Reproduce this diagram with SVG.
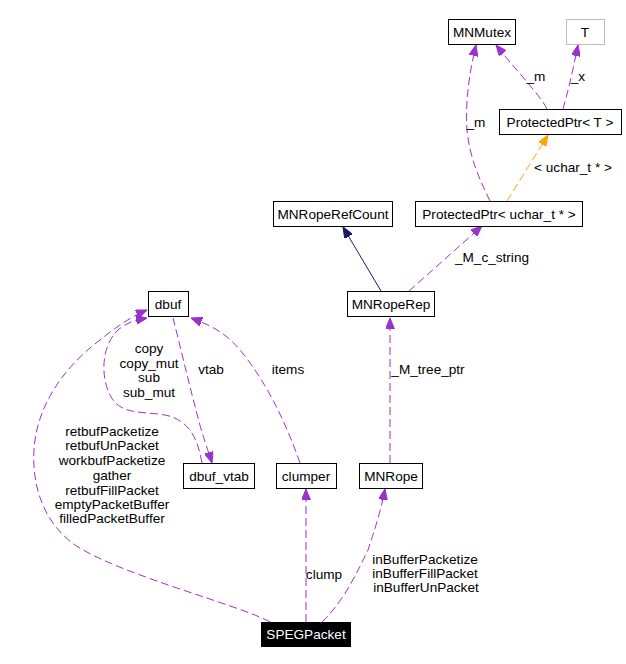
<svg xmlns="http://www.w3.org/2000/svg" width="626" height="664" viewBox="0 0 626 664">
<defs>
<marker id="ap" markerUnits="userSpaceOnUse" markerWidth="11" markerHeight="9" refX="11" refY="4.5" orient="auto"><path d="M0,0 L11,4.5 L0,9 z" fill="#9a32cd" stroke="#9a32cd" stroke-width="1"/></marker>
<marker id="an" markerUnits="userSpaceOnUse" markerWidth="11" markerHeight="9" refX="11" refY="4.5" orient="auto"><path d="M0,0 L11,4.5 L0,9 z" fill="#191970" stroke="#191970" stroke-width="1"/></marker>
<marker id="ao" markerUnits="userSpaceOnUse" markerWidth="11" markerHeight="9" refX="11" refY="4.5" orient="auto"><path d="M0,0 L11,4.5 L0,9 z" fill="#ffa500" stroke="#ffa500" stroke-width="1"/></marker>
</defs>
<style>
text{font-family:"Liberation Sans",Arial,sans-serif;font-size:13.6px;fill:#000}
.n{text-anchor:middle}
.box{fill:#fff;stroke:#000;stroke-width:1}
.p{fill:none;stroke:#9a32cd;stroke-width:1;stroke-dasharray:8,4;marker-end:url(#ap)}
.o{fill:none;stroke:#ffa500;stroke-width:1;stroke-dasharray:8,4;marker-end:url(#ao)}
.s{fill:none;stroke:#191970;stroke-width:1;marker-end:url(#an)}
</style>
<rect width="626" height="664" fill="#fff"/>
<g id="edges">
<path class="p" d="M547,109 C540,95 520,75 496,45"/>
<path class="p" d="M563,109 C567,95 572,75 578,45"/>
<path class="p" d="M490,201 C480,180 470,160 467,130 C465,100 470,70 476,45"/>
<path class="o" d="M507,201 L548,135"/>
<path class="s" d="M381,291 L343,227"/>
<path class="p" d="M409,291 L482,226"/>
<path class="p" d="M390,463 L390,318"/>
<path class="p" d="M173,318 C180,345 188,380 196,410 C202,435 208,450 212,463"/>
<path class="p" d="M202,463 C198,440 190,420 165,415 C140,411 120,415 110,395 C100,375 102,345 118,330 C126,323 135,320 147,318"/>
<path class="p" d="M300,463 C285,420 265,380 240,350 C225,332 210,325 191,318"/>
<path class="p" d="M270,622 C240,605 120,575 75,545 C40,520 32,480 34,450 C36,410 60,370 100,340 C115,328 130,317 147,310"/>
<path class="p" d="M306,622 L306,489"/>
<path class="p" d="M322,622 C345,600 358,570 368,550 C378,520 382,505 385,489"/>
</g>
<g id="edge-labels">
<text class="n" x="536" y="81">_m</text>
<text class="n" x="578" y="81">_x</text>
<text class="n" x="476" y="127">_m</text>
<text class="n" x="573" y="172">&lt; uchar_t * &gt;</text>
<text class="n" x="492" y="262">_M_c_string</text>
<text class="n" x="428" y="374">_M_tree_ptr</text>
<text class="n" x="211" y="374">vtab</text>
<text class="n" x="288" y="374">items</text>
<text class="n" x="149" y="353">copy</text>
<text class="n" x="149" y="368">copy_mut</text>
<text class="n" x="149" y="382">sub</text>
<text class="n" x="149" y="397">sub_mut</text>
<text class="n" x="112" y="436">retbufPacketize</text>
<text class="n" x="112" y="450">retbufUnPacket</text>
<text class="n" x="112" y="465">workbufPacketize</text>
<text class="n" x="112" y="480">gather</text>
<text class="n" x="112" y="495">retbufFillPacket</text>
<text class="n" x="112" y="509">emptyPacketBuffer</text>
<text class="n" x="112" y="523">filledPacketBuffer</text>
<text class="n" x="324" y="579">clump</text>
<text class="n" x="425" y="564">inBufferPacketize</text>
<text class="n" x="425" y="578">inBufferFillPacket</text>
<text class="n" x="426" y="592">inBufferUnPacket</text>
</g>
<g id="MNMutex"><rect class="box" x="448.5" y="19.5" width="67" height="25"/><text class="n" x="482" y="36.5">MNMutex</text></g>
<g id="T"><rect x="566.5" y="19.5" width="38" height="25" fill="#fff" stroke="#bfbfbf"/><text class="n" x="585" y="36.5">T</text></g>
<g id="ProtectedPtrT"><rect class="box" x="499.5" y="109.5" width="122" height="25"/><text class="n" x="560" y="126.5">ProtectedPtr&lt; T &gt;</text></g>
<g id="MNRopeRefCount"><rect class="box" x="273.5" y="201.5" width="119" height="25"/><text class="n" x="333" y="218.5">MNRopeRefCount</text></g>
<g id="ProtectedPtrUchar"><rect class="box" x="415.5" y="201.5" width="167" height="25"/><text class="n" x="499" y="218.5">ProtectedPtr&lt; uchar_t * &gt;</text></g>
<g id="MNRopeRep"><rect class="box" x="347.5" y="291.5" width="87" height="25"/><text class="n" x="391" y="308.5">MNRopeRep</text></g>
<g id="dbuf"><rect class="box" x="148.5" y="291.5" width="40" height="25"/><text class="n" x="168" y="308.5">dbuf</text></g>
<g id="dbuf_vtab"><rect class="box" x="183.5" y="463.5" width="71" height="25"/><text class="n" x="219" y="480.5">dbuf_vtab</text></g>
<g id="clumper"><rect class="box" x="276.5" y="463.5" width="60" height="25"/><text class="n" x="306" y="480.5">clumper</text></g>
<g id="MNRope"><rect class="box" x="359.5" y="463.5" width="63" height="25"/><text class="n" x="391" y="480.5">MNRope</text></g>
<g id="SPEGPacket"><rect x="261" y="622" width="90" height="25" fill="#000"/><text class="n" x="306" y="639" style="fill:#fff">SPEGPacket</text></g>
</svg>
